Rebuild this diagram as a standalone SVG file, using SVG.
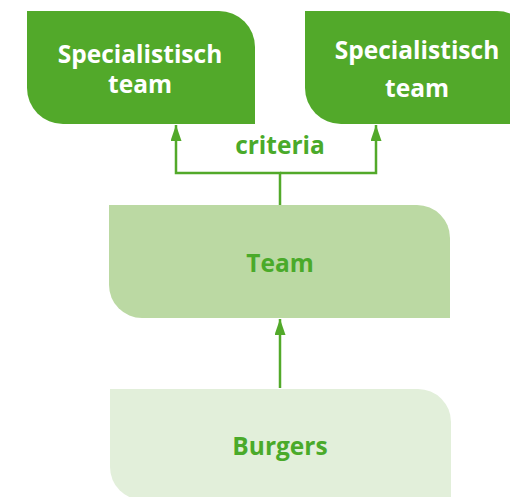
<svg xmlns="http://www.w3.org/2000/svg" width="510" height="497" viewBox="0 0 510 497">
<defs>
<style>
.dark{fill:#52a92a}
.mid{fill:#bbd9a3}
.light{fill:#e2efda}
.tw{font-family:"Open Sans","Liberation Sans",sans-serif;font-weight:bold;font-size:24.5px;fill:#ffffff;text-anchor:middle}
.tg{font-family:"Open Sans","Liberation Sans",sans-serif;font-weight:bold;font-size:24.5px;fill:#4aaa2a;text-anchor:middle}
.ln{fill:none;stroke:#52a92a;stroke-width:2.5}
</style>
<marker id="ah" viewBox="0 0 16 11" refX="16" refY="5.5" markerWidth="6.4" markerHeight="4.4" orient="auto" markerUnits="strokeWidth">
<path d="M0,0 L16,5.5 L0,11 z" fill="#52a92a"/>
</marker>
</defs>
<g id="connectors">
<path class="ln" d="M280,205 V173 H176 V125" marker-end="url(#ah)"/>
<path class="ln" d="M280,173 H376 V125" marker-end="url(#ah)"/>
<path class="ln" d="M280,388 V319" marker-end="url(#ah)"/>
<text class="tg" x="280" y="154">criteria</text>
</g>
<g id="spec1">
<path class="dark" d="M27,11 H219 A36,36 0 0 1 255,47 V124 H63 A36,36 0 0 1 27,88 Z"/>
<text class="tw" x="140" y="63">Specialistisch</text>
<text class="tw" x="140" y="93">team</text>
</g>
<g id="spec2">
<path class="dark" d="M305,11 H497 A36,36 0 0 1 533,47 V124 H341 A36,36 0 0 1 305,88 Z"/>
<text class="tw" x="417" y="59">Specialistisch</text>
<text class="tw" x="417" y="97">team</text>
</g>
<g id="team">
<path class="mid" d="M109,205 H417 A33,33 0 0 1 450,238 V318 H142 A33,33 0 0 1 109,285 Z"/>
<text class="tg" x="280" y="272">Team</text>
</g>
<g id="burgers">
<path class="light" d="M110,389 H418 A33,33 0 0 1 451,422 V500 H143 A33,33 0 0 1 110,467 Z"/>
<text class="tg" x="280" y="455">Burgers</text>
</g>
</svg>
